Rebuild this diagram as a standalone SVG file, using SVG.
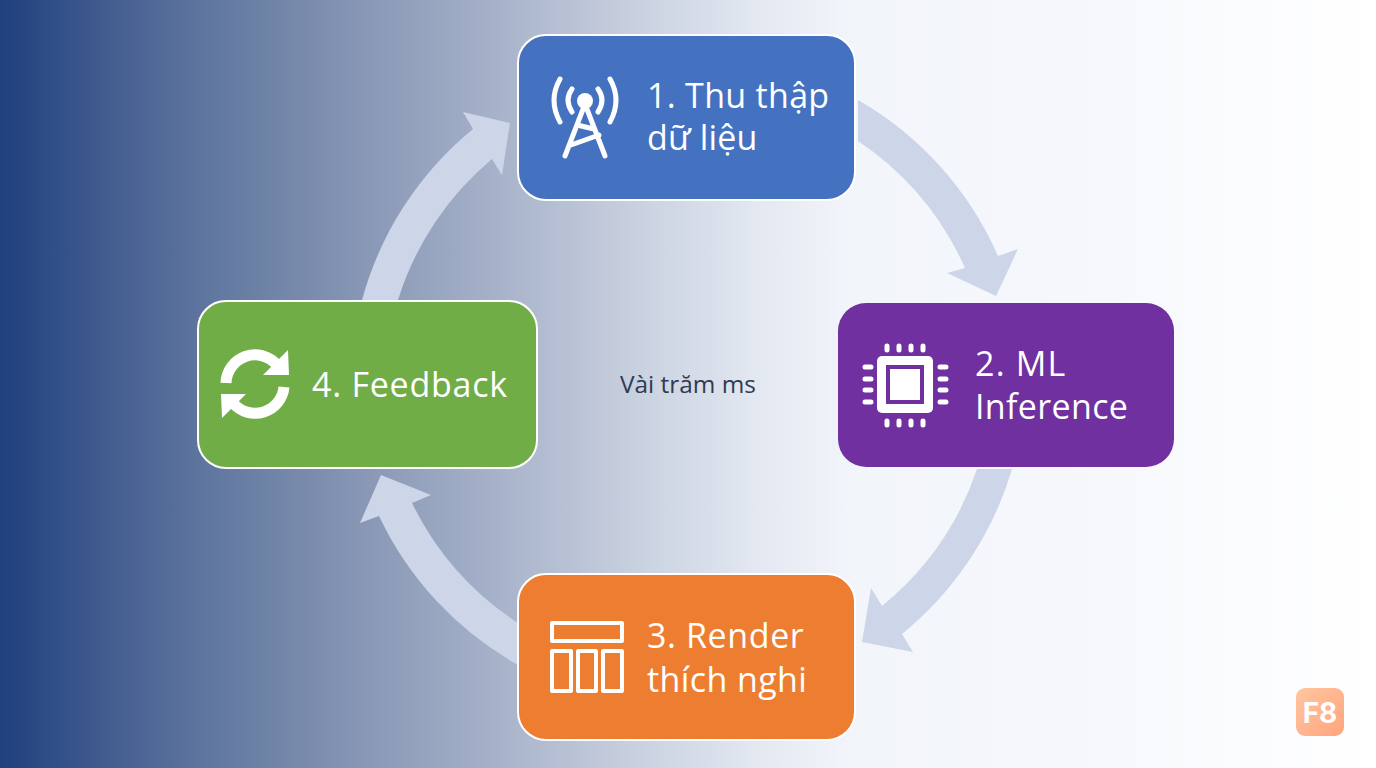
<svg xmlns="http://www.w3.org/2000/svg" width="1376" height="768" viewBox="0 0 1376 768">
<defs>
<linearGradient id="bg" x1="0" y1="0" x2="1" y2="0">
<stop offset="0" stop-color="#1f407e"/>
<stop offset="0.07" stop-color="#3f5a8e"/>
<stop offset="0.15" stop-color="#5f769f"/>
<stop offset="0.25" stop-color="#8393b2"/>
<stop offset="0.35" stop-color="#a3afc7"/>
<stop offset="0.45" stop-color="#c5cddd"/>
<stop offset="0.55" stop-color="#e3e8f1"/>
<stop offset="0.62" stop-color="#f2f5fa"/>
<stop offset="0.8" stop-color="#f6f8fc"/>
<stop offset="1" stop-color="#ffffff"/>
</linearGradient>
<linearGradient id="badge" x1="0" y1="0" x2="1" y2="1">
<stop offset="0" stop-color="#ffc6a0"/>
<stop offset="1" stop-color="#ffa57e"/>
</linearGradient>
</defs>
<style>
.node{stroke:#ffffff;stroke-width:2}
.flow{fill:#cdd5e8}
.label{font-family:"Open Sans","Noto Sans",sans-serif;font-size:34px;fill:#ffffff}
.ico{fill:none;stroke:#ffffff;stroke-linecap:round}
.solid{fill:#ffffff}
</style>
<rect id="background" width="1376" height="768" fill="url(#bg)"/>
<g id="connectors">
<path class="flow" d="M858 100A335 335 0 0 1 998 256L1018 249L996 296L947 273L965 268A300 300 0 0 0 858 141Z"/>
<path class="flow" d="M1012 469A335 335 0 0 1 902 634L913 652L862 642L871 588L882 606A300 300 0 0 0 977 469Z"/>
<path class="flow" d="M518 665A335 335 0 0 1 379 516L360 523L381 475L431 495L412 503A300 300 0 0 0 518 623Z"/>
<path class="flow" d="M362 300A335 335 0 0 1 473 129L463 112L510 123L502 175L492 159A300 300 0 0 0 398 300Z"/>
</g>
<g id="node1">
<rect class="node" x="518" y="35" width="337" height="165" rx="28" fill="#4472c0"/>
<g class="ico" stroke-width="5">
<path d="M585 104L565 156M585 104L605 156M577 125L594 129M571 145L599 135"/>
<path d="M572 89Q564 100 572 112M598 89Q606 100 598 112"/>
<path d="M560 79Q548 100 560 122M610 79Q622 100 610 122"/>
</g>
<circle class="solid" cx="585" cy="101" r="8"/>
<text class="label" x="647" y="108" letter-spacing="0.3">1. Thu thập</text>
<text class="label" x="647" y="150" letter-spacing="0.2">dữ liệu</text>
</g>
<g id="node2">
<rect x="838" y="303" width="336" height="164" rx="28" fill="#7030a0"/>
<rect class="solid" x="877" y="356" width="56" height="57" rx="5"/>
<rect x="888" y="367" width="34" height="35" fill="#ffffff" stroke="#7030a0" stroke-width="4"/>
<g class="ico" stroke-width="5">
<path d="M887 346V350M899 346V350M911 346V350M923 346V350"/>
<path d="M887 421V425M899 421V425M911 421V425M923 421V425"/>
<path d="M865 367H871M865 379H871M865 390H871M865 402H871"/>
<path d="M940 367H946M940 379H946M940 390H946M940 402H946"/>
</g>
<text class="label" x="975" y="376" letter-spacing="1.2">2. ML</text>
<text class="label" x="975" y="419" letter-spacing="0.35">Inference</text>
</g>
<g id="node3">
<rect class="node" x="518" y="574" width="337" height="166" rx="28" fill="#ed7d31"/>
<g fill="none" stroke="#ffffff" stroke-width="4" stroke-linejoin="round">
<rect x="552" y="623" width="70" height="18"/>
<rect x="552" y="651" width="19" height="40"/>
<rect x="578" y="651" width="18" height="40"/>
<rect x="603" y="651" width="19" height="40"/>
</g>
<text class="label" x="647" y="648" letter-spacing="0.6">3. Render</text>
<text class="label" x="647" y="692" letter-spacing="0.4">thích nghi</text>
</g>
<g id="node4">
<rect class="node" x="198" y="301" width="339" height="167" rx="28" fill="#70ad47"/>
<path d="M226 383A29 29 0 0 1 277 365M284 387A29 29 0 0 1 233 403" fill="none" stroke="#ffffff" stroke-width="11"/>
<path class="solid" d="M288 350L289 375L263 375ZM222 418L221 394L246 394Z"/>
<text class="label" x="312" y="397" letter-spacing="0.75">4. Feedback</text>
</g>
<text id="center-label" x="620" y="393" font-family="'Open Sans','Noto Sans',sans-serif" font-size="24.4" fill="#2f3b52">Vài trăm ms</text>
<g id="badge-f8">
<rect x="1296" y="688" width="48" height="48" rx="9" fill="url(#badge)"/>
<text x="1320" y="723" text-anchor="middle" font-family="Inter,'Liberation Sans',sans-serif" font-weight="700" font-size="28" fill="#ffffff">F8</text>
</g>
</svg>
